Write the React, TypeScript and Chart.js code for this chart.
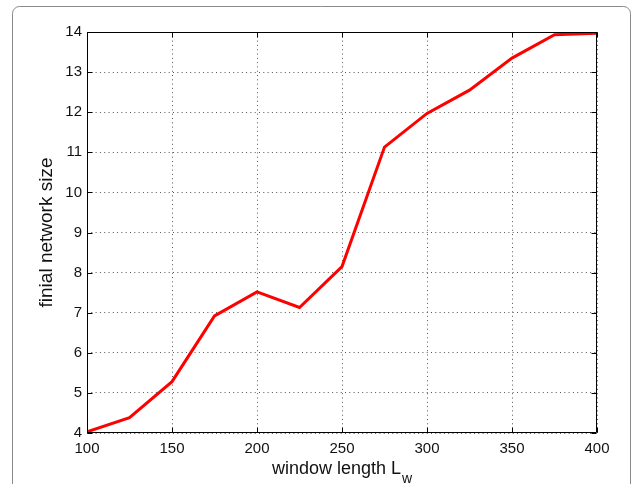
import React, { useEffect, useRef } from "react";
import { Chart, registerables } from "chart.js";

Chart.register(...registerables);

const windowLengths = [100, 125, 150, 175, 200, 225, 250, 275, 300, 325, 350, 375, 400];
const networkSize = [4.03, 4.38, 5.28, 6.92, 7.52, 7.13, 8.15, 11.13, 11.97, 12.55, 13.35, 13.93, 13.97];
const xTicks = [100, 150, 200, 250, 300, 350, 400];
const yTicks = [4, 5, 6, 7, 8, 9, 10, 11, 12, 13, 14];
const yTitle = "finial network size";
const xTitleMain = "window length L";
const xTitleSub = "w";

const FONT = "'Liberation Sans', Arial, Helvetica, sans-serif";

const framePlugin = {
  id: "frame",
  beforeDraw(chart: any) {
    const ctx = chart.ctx;
    ctx.save();
    ctx.fillStyle = "#fff";
    ctx.fillRect(0, 0, chart.width, chart.height);
    ctx.strokeStyle = "#8a8a8a";
    ctx.lineWidth = 1;
    ctx.beginPath();
    const x0 = 12.5, y0 = 6.5, x1 = 630.5, y1 = 520, r = 7;
    ctx.moveTo(x0, y1);
    ctx.lineTo(x0, y0 + r);
    ctx.arcTo(x0, y0, x0 + r, y0, r);
    ctx.lineTo(x1 - r, y0);
    ctx.arcTo(x1, y0, x1, y0 + r, r);
    ctx.lineTo(x1, y1);
    ctx.stroke();
    ctx.restore();
  },
  afterDraw(chart: any) {
    const ctx = chart.ctx;
    const a = chart.chartArea;
    const xs = chart.scales.x;
    const ys = chart.scales.y;
    ctx.save();
    ctx.strokeStyle = "#000";
    ctx.lineWidth = 1;
    const L = Math.round(a.left) + 0.5;
    const R = Math.round(a.right) - 0.5;
    const T = Math.round(a.top) + 0.5;
    const B = Math.round(a.bottom) - 0.5;
    ctx.beginPath();
    ctx.rect(L, T, R - L, B - T);
    ctx.stroke();
    const tl = 5;
    ctx.beginPath();
    xTicks.forEach((v) => {
      const px = Math.round(xs.getPixelForValue(v)) + 0.5;
      ctx.moveTo(px, B);
      ctx.lineTo(px, B - tl);
      ctx.moveTo(px, T);
      ctx.lineTo(px, T + tl);
    });
    yTicks.forEach((v) => {
      const py = Math.round(ys.getPixelForValue(v)) + 0.5;
      ctx.moveTo(L, py);
      ctx.lineTo(L + tl, py);
      ctx.moveTo(R, py);
      ctx.lineTo(R - tl, py);
    });
    ctx.stroke();

    // axis titles
    ctx.fillStyle = "#111";
    ctx.font = "18px " + FONT;
    ctx.textBaseline = "alphabetic";
    const mainW = ctx.measureText(xTitleMain).width;
    ctx.font = "14px " + FONT;
    const subW = ctx.measureText(xTitleSub).width;
    const cx = (a.left + a.right) / 2;
    const startX = cx - (mainW + subW + 1) / 2;
    ctx.font = "18px " + FONT;
    ctx.textAlign = "left";
    ctx.fillText(xTitleMain, startX, 474);
    ctx.font = "14px " + FONT;
    ctx.fillText(xTitleSub, startX + mainW + 1, 483);

    ctx.save();
    ctx.translate(52, (a.top + a.bottom) / 2);
    ctx.rotate(-Math.PI / 2);
    ctx.font = "19px " + FONT;
    ctx.textAlign = "center";
    ctx.fillText(yTitle, 0, 0);
    ctx.restore();
    ctx.restore();
  },
};

export default function App() {
  const ref = useRef<HTMLCanvasElement>(null);
  useEffect(() => {
    const canvas = ref.current;
    if (!canvas) return;
    const chart = new Chart(canvas, {
      type: "line",
      data: {
        datasets: [
          {
            data: windowLengths.map((x, i) => ({ x, y: networkSize[i] })),
            borderColor: "#ff0000",
            borderWidth: 3,
            pointRadius: 0,
            fill: false,
            tension: 0,
          },
        ],
      },
      options: {
        responsive: false,
        animation: false,
        events: [],
        layout: { padding: { left: 0, top: 32, right: 36, bottom: 0 } },
        plugins: { legend: { display: false }, tooltip: { enabled: false } },
        scales: {
          x: {
            type: "linear",
            min: 100,
            max: 400,
            afterBuildTicks: (s: any) => {
              s.ticks = xTicks.map((v) => ({ value: v }));
            },
            afterFit: (s: any) => {
              s.height = 51;
            },
            grid: { color: "#555", lineWidth: 1, drawTicks: false, tickLength: 0 },
            border: { display: false, dash: [1, 3.3] },
            ticks: {
              color: "#111",
              font: { family: FONT, size: 15 },
              padding: 7,
              maxRotation: 0,
              autoSkip: false,
            },
          },
          y: {
            type: "linear",
            min: 4,
            max: 14,
            afterBuildTicks: (s: any) => {
              s.ticks = yTicks.map((v) => ({ value: v }));
            },
            afterFit: (s: any) => {
              s.width = 87;
            },
            grid: { color: "#555", lineWidth: 1, drawTicks: false, tickLength: 0 },
            border: { display: false, dash: [1, 3.3] },
            ticks: {
              color: "#111",
              font: { family: FONT, size: 15 },
              padding: 5,
              autoSkip: false,
            },
          },
        },
      },
      plugins: [framePlugin],
    });
    return () => chart.destroy();
  }, []);
  return (
    <div style={{ position: "fixed", left: 0, top: 0, width: 633, height: 484, background: "#fff" }}>
      <canvas ref={ref} width={633} height={484} style={{ display: "block", width: 633, height: 484 }} />
    </div>
  );
}
